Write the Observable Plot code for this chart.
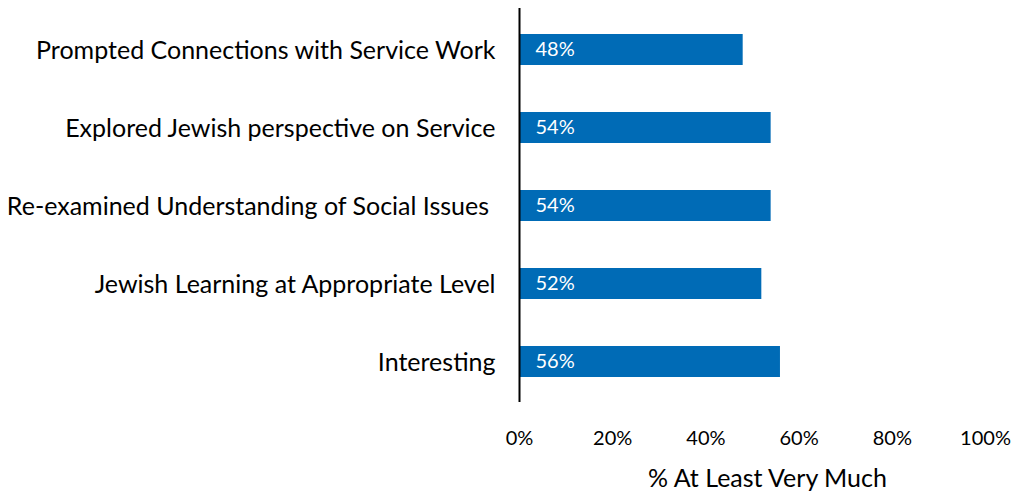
<!DOCTYPE html>
<html>
<head>
<meta charset="utf-8">
<script src="https://cdn.jsdelivr.net/npm/d3@7"></script>
<script src="https://cdn.jsdelivr.net/npm/@observablehq/plot@0.6"></script>
<style>
  html, body { margin: 0; padding: 0; background: #fff; }
  svg text { white-space: pre; }
</style>
</head>
<body>
<div id="chart"></div>
<script>
const categories = [
  "Prompted Connections with Service Work",
  "Explored Jewish perspective on Service",
  "Re-examined Understanding of Social Issues ",
  "Jewish Learning at Appropriate Level",
  "Interesting"
];
const values = [48, 54, 54, 52, 56];
const xTicks = [0, 20, 40, 60, 80, 100];
const xTitle = "% At Least Very Much";

const data = categories.map((c, i) => ({category: c, value: values[i]}));

const chart = Plot.plot({
  width: 1018,
  height: 497,
  marginLeft: 519,
  marginRight: 33,
  marginTop: 10,
  marginBottom: 95,
  style: {fontFamily: "Lato, 'Open Sans', sans-serif", fontSize: "22px", color: "#000", background: "#fff"},
  x: {domain: [0, 100]},
  y: {domain: categories, paddingInner: 0.6, paddingOuter: 0.3},
  marks: [
    Plot.axisX({ticks: xTicks, tickFormat: d => d + "%", tickSize: 0, tickPadding: 28, fontSize: 20, label: null}),
    Plot.axisY({tickSize: 0, tickPadding: 24, fontSize: 25, label: null, dy: 1}),
    Plot.barX(data, {x: "value", y: "category", fill: "#006BB6"}),
    Plot.text(data, {x: 0, y: "category", text: d => d.value + "%", textAnchor: "start", dx: 16, fill: "white", fontSize: 20}),
    Plot.ruleX([0], {stroke: "black", strokeWidth: 2, insetTop: -2}),
    Plot.text([xTitle], {frameAnchor: "bottom", text: d => d, dy: 84, dx: 15, fontSize: 25, fill: "black"})
  ]
});
document.getElementById("chart").appendChild(chart);
</script>
</body>
</html>
